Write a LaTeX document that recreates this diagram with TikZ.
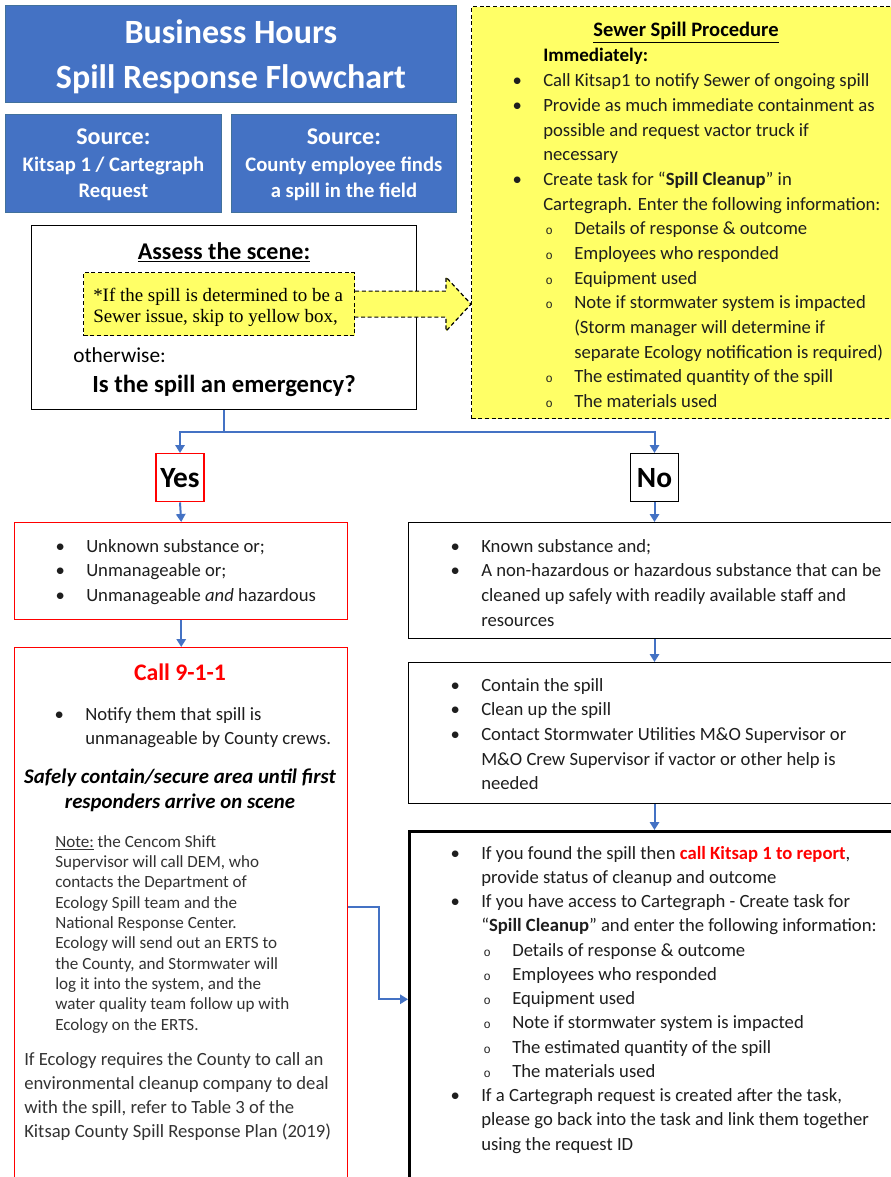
\documentclass[tikz,border=0pt]{standalone}
\usepackage{fontspec}
\setmainfont{Carlito}
\newfontfamily\timesfont{Liberation Serif}
\newfontfamily\circfont{Liberation Mono}
\usetikzlibrary{arrows.meta,calc}
\newlength\px
\setlength\px{0.75pt}
\definecolor{titleblue}{HTML}{4472C4}
\definecolor{edgeblue}{HTML}{41719C}
\definecolor{notice}{HTML}{FFFF66}
\definecolor{alarm}{HTML}{FF0000}
\definecolor{ink}{HTML}{1E1E1E}
\definecolor{notegray}{HTML}{333333}
% list lines: bullet, continuation, sub-bullet, sub-continuation
\newcommand\bitem[1]{\makebox[26\px]{\textbullet}\hspace*{13\px}#1}
\newcommand\bcont[1]{\hspace*{39\px}#1}
\newcommand\sitem[1]{\hspace*{32\px}\makebox[26\px]{\circfont\fontsize{9}{9}\selectfont o}\hspace*{12\px}#1}
\newcommand\scont[1]{\hspace*{70\px}#1}
% stacked lines, baseline on the first one
\newcommand\leftlines[1]{\begin{tabular}[t]{@{}l@{}}#1\end{tabular}}
\newcommand\midlines[1]{\begin{tabular}[t]{@{}c@{}}#1\end{tabular}}
\begin{document}
\begin{tikzpicture}[x=0.75pt, y=-0.75pt,
    titlebox/.style={draw=edgeblue, line width=0.6pt, fill=titleblue, text=white, align=center, anchor=north west, inner sep=0pt, text depth=0pt},
    plainbox/.style={draw=black, line width=1.1pt, fill=white, anchor=north west, inner sep=0pt},
    redbox/.style={draw=alarm, line width=1.1pt, fill=white, anchor=north west, inner sep=0pt},
    notebox/.style={draw=black, line width=0.9pt, dash pattern=on 3pt off 2pt, fill=notice, anchor=north west, inner sep=0pt},
    listtext/.style={font=\fontsize{14}{18.5}\selectfont, inner sep=0pt, text=ink, anchor=base west},
    answer/.style={line width=1.1pt, fill=white, inner sep=0pt, minimum width=48\px, minimum height=48\px, anchor=north, font=\bfseries\fontsize{22}{24}\selectfont},
    link/.style={draw=titleblue, line width=1.5pt},
    flow/.style={link, -{Triangle[width=7pt,length=6pt]}}]
  \clip (0,0) rectangle (891,1177);
  \fill[white] (0,0) rectangle (891,1177);

  % heading and sources
  \node[titlebox, minimum width=451\px, minimum height=97\px, font=\bfseries\fontsize{25.5}{33.75}\selectfont] (title) at (5,5) {Business Hours\\Spill Response Flowchart};
  \node[titlebox, minimum width=216\px, minimum height=98\px, font=\bfseries\fontsize{15.5}{20}\selectfont] (kitsap) at (5,114) {{\fontsize{18}{20}\selectfont Source:}\\Kitsap 1 / Cartegraph\\Request};
  \node[titlebox, minimum width=225\px, minimum height=98\px, font=\bfseries\fontsize{15.5}{20}\selectfont] (field) at (231,114) {{\fontsize{18}{20}\selectfont Source:}\\County employee finds\\a spill in the field};

  % assess the scene
  \node[plainbox, minimum width=385\px, minimum height=184\px] (assess) at (31,225) {};
  \node[anchor=base, inner sep=0pt, font=\bfseries\fontsize{18}{22}\selectfont] (assesshead) at (224,259) {\underline{Assess the scene:}};
  \node[notebox, minimum width=271\px, minimum height=63\px] (note) at (83,272) {};
  \node[anchor=base west, inner sep=0pt, font=\timesfont\fontsize{14.2}{15.75}\selectfont] (notetxt) at (93,301) {\leftlines{*If the spill is determined to be a\\Sewer issue, skip to yellow box,}};
  \node[anchor=base west, inner sep=0pt, font=\fontsize{16}{18}\selectfont] (otherwise) at (73,362) {otherwise:};
  \node[anchor=base, inner sep=0pt, font=\bfseries\fontsize{18.5}{22}\selectfont] (question) at (224,392) {Is the spill an emergency?};

  % sewer procedure
  \node[notebox, minimum width=430\px, minimum height=412\px] (sewer) at (471,6) {};
  \node[anchor=base, inner sep=0pt, font=\bfseries\fontsize{15.4}{18}\selectfont] (sewerhead) at (686,37) {\underline{Sewer Spill Procedure}};
  \node[anchor=base west, inner sep=0pt, font=\bfseries\fontsize{14.3}{18}\selectfont] (immediately) at (543,62) {Immediately:};
  \node[listtext] (sewersteps) at (504,87) {\leftlines{\bitem{Call Kitsap1 to notify Sewer of ongoing spill}\\
    \bitem{Provide as much immediate containment as}\\
    \bcont{possible and request vactor truck if}\\
    \bcont{necessary}\\
    \bitem{Create task for “\textbf{Spill Cleanup}” in}\\
    \bcont{Cartegraph. Enter the following information:}\\
    \sitem{Details of response \& outcome}\\
    \sitem{Employees who responded}\\
    \sitem{Equipment used}\\
    \sitem{Note if stormwater system is impacted}\\
    \scont{(Storm manager will determine if}\\
    \scont{separate Ecology notification is required)}\\
    \sitem{The estimated quantity of the spill}\\
    \sitem{The materials used}}};

  % skip arrow
  \coordinate (tip) at (sewer.west |- note.east);
  \draw[line width=0.9pt, dash pattern=on 3pt off 2pt, fill=notice]
    ($(note.east)+(0,-13)$) -- ($(tip)+(-25,-13)$) -- ($(tip)+(-25,-27)$) -- (tip)
    -- ($(tip)+(-25,27)$) -- ($(tip)+(-25,13)$) -- ($(note.east)+(0,13)$);

  % yes / no
  \node[answer, draw=alarm] (yes) at (180,453) {Yes};
  \node[answer, draw=black] (no) at (654.5,453) {No};
  \coordinate (split) at ($(assess.south)+(0,22)$);
  \draw[link] (assess.south) -- (split);
  \draw[flow] (split) -| (yes.north);
  \draw[flow] (split) -| (no.north);

  % emergency branch
  \node[redbox, minimum width=333\px, minimum height=97\px] (unknown) at (14,522) {};
  \node[listtext] (unknowntxt) at (47,552) {\leftlines{\bitem{Unknown substance or;}\\
    \bitem{Unmanageable or;}\\
    \bitem{Unmanageable \emph{and} hazardous}}};
  \node[redbox, minimum width=333\px, minimum height=532\px] (call) at (14,647) {};
  \node[anchor=base, inner sep=0pt, text=alarm, font=\bfseries\fontsize{17.8}{20}\selectfont] (calltitle) at (180,680) {Call 9-1-1};
  \node[listtext] (notify) at (46,720) {\leftlines{\bitem{Notify them that spill is}\\
    \bcont{unmanageable by County crews.}}};
  \node[anchor=base, inner sep=0pt, font=\bfseries\itshape\fontsize{15.6}{18.75}\selectfont] (secure) at (180,783) {\midlines{Safely contain/secure area until first\\responders arrive on scene}};
  \node[anchor=base west, inner sep=0pt, text=notegray, font=\fontsize{12.8}{15.25}\selectfont] (cencom) at (55,847) {\leftlines{\underline{Note:} the Cencom Shift\\
    Supervisor will call DEM, who\\
    contacts the Department of\\
    Ecology Spill team and the\\
    National Response Center.\\
    Ecology will send out an ERTS to\\
    the County, and Stormwater will\\
    log it into the system, and the\\
    water quality team follow up with\\
    Ecology on the ERTS.}};
  \node[listtext, text=notegray, font=\fontsize{14}{18}\selectfont] (ecology) at (24,1065) {\leftlines{If Ecology requires the County to call an\\
    environmental cleanup company to deal\\
    with the spill, refer to Table 3 of the\\
    Kitsap County Spill Response Plan (2019)}};
  \draw[flow] (yes.south) -- (unknown.north);
  \draw[flow] (unknown.south) -- (call.north);

  % non-emergency branch
  \node[plainbox, minimum width=492\px, minimum height=116\px] (known) at (408,522) {};
  \node[listtext] (knowntxt) at (442,552) {\leftlines{\bitem{Known substance and;}\\
    \bitem{A non-hazardous or hazardous substance that can be}\\
    \bcont{cleaned up safely with readily available staff and}\\
    \bcont{resources}}};
  \node[plainbox, minimum width=492\px, minimum height=141\px] (contain) at (408,662) {};
  \node[listtext] (containtxt) at (442,691) {\leftlines{\bitem{Contain the spill}\\
    \bitem{Clean up the spill}\\
    \bitem{Contact Stormwater Utilities M\&O Supervisor or}\\
    \bcont{M\&O Crew Supervisor if vactor or other help is}\\
    \bcont{needed}}};
  \node[plainbox, line width=1.9pt, minimum width=492\px, minimum height=350\px] (report) at (408,830) {};
  \node[listtext, font=\fontsize{14}{18.2}\selectfont] (reporttxt) at (442,859) {\leftlines{\bitem{If you found the spill then \textcolor{alarm}{\textbf{call Kitsap 1 to report}},}\\
    \bcont{provide status of cleanup and outcome}\\
    \bitem{If you have access to Cartegraph - Create task for}\\
    \bcont{“\textbf{Spill Cleanup}” and enter the following information:}\\
    \sitem{Details of response \& outcome}\\
    \sitem{Employees who responded}\\
    \sitem{Equipment used}\\
    \sitem{Note if stormwater system is impacted}\\
    \sitem{The estimated quantity of the spill}\\
    \sitem{The materials used}\\
    \bitem{If a Cartegraph request is created after the task,}\\
    \bcont{please go back into the task and link them together}\\
    \bcont{using the request ID}}};
  \draw[flow] (no.south) -- (known.north -| no.south);
  \draw[flow] (known.south -| no.south) -- (contain.north -| no.south);
  \draw[flow] (contain.south -| no.south) -- (report.north -| no.south);
  \draw[flow] ([yshift=4.9pt]call.east) -- ++(31,0) |- ([yshift=5.25pt]report.west);
\end{tikzpicture}
\end{document}
